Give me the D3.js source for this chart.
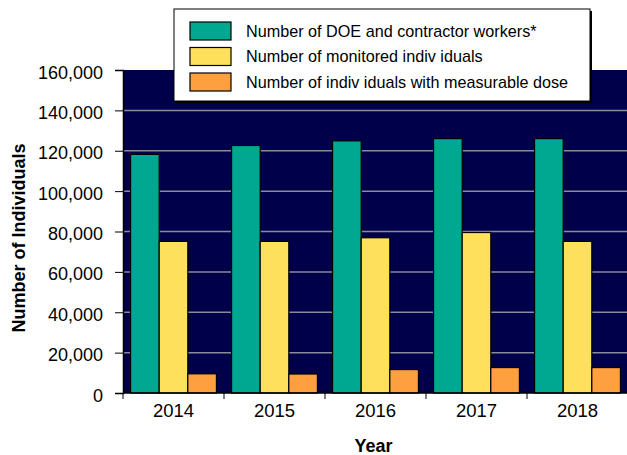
<!DOCTYPE html>
<html>
<head>
<meta charset="utf-8">
<script src="https://cdn.jsdelivr.net/npm/d3@7"></script>
<style>
  body { margin: 0; background: #fff; }
  svg { display: block; font-family: "Liberation Sans", Arial, sans-serif; }
</style>
</head>
<body>
<svg></svg>
<script>
const years = ["2014", "2015", "2016", "2017", "2018"],
  seriesNames = [
    "Number of DOE and contractor workers*",
    "Number of monitored indiv iduals",
    "Number of indiv iduals with measurable dose"
  ],
  workers = [118200, 122600, 124900, 126000, 126000],
  monitored = [75100, 75100, 76900, 79500, 75100],
  measurable = [9500, 9400, 11600, 12600, 12600],
  yTicks = [0, 20000, 40000, 60000, 80000, 100000, 120000, 140000, 160000],
  colors = ["#00a891", "#ffe05c", "#ffa040"];

const W = 627, H = 455,
  margin = { top: 70, right: -1, bottom: 62, left: 123 },
  width = W - margin.left - margin.right,
  height = H - margin.top - margin.bottom;

const svg = d3.select("svg").attr("width", W).attr("height", H);
const chart = svg.append("g")
  .attr("transform", "translate(" + margin.left + "," + margin.top + ")");

const x = d3.scaleBand().domain(years).range([0, width]);
const x1 = d3.scaleBand().domain(d3.range(3))
  .range([x.bandwidth() * 0.075, x.bandwidth() * 0.925]);
const y = d3.scaleLinear().domain([0, 160000]).range([height, 0]);

// plot background
chart.append("rect")
  .attr("width", width).attr("height", height)
  .attr("fill", "#00004a");

// gridlines
chart.selectAll(".grid")
  .data(yTicks.filter(d => d > 0 && d < 160000))
  .enter().append("line")
  .attr("x1", 0).attr("x2", width)
  .attr("y1", d => y(d)).attr("y2", d => y(d))
  .attr("stroke", "#8a8a9a").attr("stroke-width", 1.5);

// bars
const rows = years.map((yr, i) => ({ year: yr, vals: [workers[i], monitored[i], measurable[i]] }));
const groups = chart.selectAll(".grp").data(rows).enter().append("g")
  .attr("transform", d => "translate(" + x(d.year) + ",0)");
groups.selectAll("rect")
  .data(d => d.vals)
  .enter().append("rect")
  .attr("x", (d, i) => x1(i))
  .attr("y", d => y(d))
  .attr("width", x1.bandwidth())
  .attr("height", d => height - y(d))
  .attr("fill", (d, i) => colors[i])
  .attr("stroke", "#000").attr("stroke-width", 1.2);

// axes
const yAxis = d3.axisLeft(y).tickValues(yTicks).tickSize(8).tickPadding(12)
  .tickFormat(d3.format(","));
chart.append("g").call(yAxis)
  .call(g => g.selectAll("text").attr("font-size", 18).attr("fill", "#000").attr("dy", "0.45em"))
  .call(g => g.select(".domain").attr("stroke-width", 1.5));

const xAxis = chart.append("g").attr("transform", "translate(0," + height + ")");
xAxis.append("line").attr("x1", 0).attr("x2", width).attr("stroke", "#000").attr("stroke-width", 1.5);
xAxis.selectAll(".tk").data(years).enter().append("line")
  .attr("x1", d => x(d)).attr("x2", d => x(d))
  .attr("y1", 0).attr("y2", 6).attr("stroke", "#000");
xAxis.selectAll(".lbl").data(years).enter().append("text")
  .attr("x", d => x(d) + x.bandwidth() / 2)
  .attr("y", 24)
  .attr("text-anchor", "middle")
  .attr("font-size", 18.5)
  .text(d => d);

// axis titles
svg.append("text")
  .attr("transform", "translate(25,238) rotate(-90)")
  .attr("text-anchor", "middle")
  .attr("font-size", 18).attr("font-weight", "bold")
  .text("Number of Individuals");
svg.append("text")
  .attr("x", margin.left + width / 2 - 2).attr("y", 452)
  .attr("text-anchor", "middle")
  .attr("font-size", 18).attr("font-weight", "bold")
  .text("Year");

// legend
const lg = svg.append("g").attr("transform", "translate(174,9)");
lg.append("rect").attr("x", 2).attr("y", 2).attr("width", 416).attr("height", 92).attr("fill", "#000");
lg.append("rect").attr("width", 416).attr("height", 92)
  .attr("fill", "#fff").attr("stroke", "#000").attr("stroke-width", 1);
seriesNames.forEach((name, i) => {
  lg.append("rect")
    .attr("x", 16).attr("y", 13 + i * 25.5)
    .attr("width", 41).attr("height", 18)
    .attr("fill", colors[i]).attr("stroke", "#000").attr("stroke-width", 1.2);
  lg.append("text")
    .attr("x", 72).attr("y", 22 + i * 25.5).attr("dy", "0.35em")
    .attr("font-size", 16.2)
    .text(name);
});
</script>
</body>
</html>
